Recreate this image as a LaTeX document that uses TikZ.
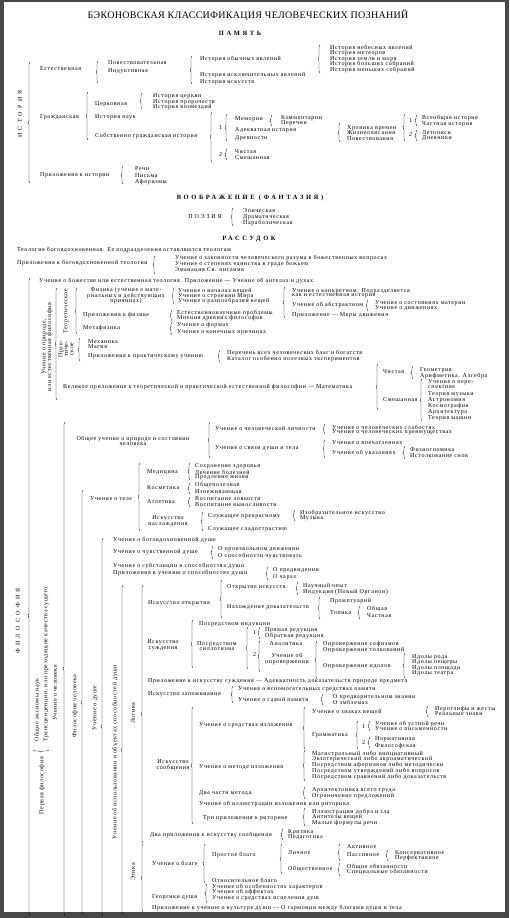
\documentclass[tikz,border=0pt]{standalone}
\usepackage{fontspec}
\setmainfont{Liberation Serif}
\newfontfamily\bodyfont[LetterSpace=10]{Liberation Serif}
\newfontfamily\headfont[LetterSpace=40]{Liberation Serif}
\newfontfamily\sparsefont[LetterSpace=30]{Liberation Serif}
\newfontfamily\vertfont[LetterSpace=55]{Liberation Serif}
\newfontfamily\titlefont[LetterSpace=3]{Liberation Serif}
\usetikzlibrary{decorations.pathreplacing}
\definecolor{scan}{RGB}{72,72,72}
\tikzset{every picture/.style={line width=0.4pt}}
\tikzset{
  txt/.style={anchor=west, inner sep=0pt, font=\bodyfont\fontsize{6}{5.5}\selectfont},
  ctxt/.style={txt, anchor=center, align=center},
  vtxt/.style={txt, anchor=center, align=center, rotate=90},
  ttl/.style={inner sep=0pt, font=\titlefont\fontsize{10}{12}\selectfont},
  head/.style={inner sep=0pt, font=\headfont\bfseries\fontsize{6.5}{8}\selectfont},
  sparse/.style={inner sep=0pt, font=\sparsefont\fontsize{6}{7}\selectfont},
  vsp/.style={inner sep=0pt, rotate=90, font=\vertfont\fontsize{6}{7}\selectfont},
  brc/.style={decorate, decoration={brace, amplitude=2pt}}
}

\begin{document}
\begin{tikzpicture}[x=1pt,y=-1pt]
    % рамка скана
    \fill[scan] (0,0) rectangle (509,918);
    \fill[white] (4,2) rectangle (505,912);
    \useasboundingbox (0,0) rectangle (509,918);

    % заголовок
    \node[ttl] (title) at (248,15) {БЭКОНОВСКАЯ КЛАССИФИКАЦИЯ ЧЕЛОВЕЧЕСКИХ ПОЗНАНИЙ};
    \node[head] (pamyat) at (240,33) {ПАМЯТЬ};

    % история
    \node[vsp] (istoriya) at (20,114) {ИСТОРИЯ};
    \draw[brc] (30,183) -- (30,62);
    \node[txt] (estest) at (40,69) {Естественная};
    \draw[brc] (98,83) -- (98,61);
    \node[txt] (povest) at (108,63) {Повествовательная};
    \node[txt] (indukt) at (108,71) {Индуктивная};
    \draw[brc] (192,84) -- (192,56);
    \node[txt] (obych) at (200,59) {История обычных явлений};
    \node[txt] (isklyuch) at (200,75) {История исключительных явлений};
    \node[txt] (iskusstv) at (200,82) {История искусств};
    \draw[brc] (320,73) -- (320,45);
    \node[txt] (nebes) at (330,48) {История небесных явлений};
    \node[txt] (meteor) at (330,53) {История метеоров};
    \node[txt] (zemli) at (330,59) {История земли и моря};
    \node[txt] (bolsh) at (330,64) {История больших собраний};
    \node[txt] (mensh) at (330,70) {История меньших собраний};

    \node[txt] (grazhd) at (40,117) {Гражданская};
    \draw[brc] (88,140) -- (88,92);
    \node[txt] (tserk) at (95,104) {Церковная};
    \draw[brc] (142,109) -- (142,93);
    \node[txt] (tserkvi) at (153,96) {История церкви};
    \node[txt] (proroch) at (153,102) {История пророчеств};
    \node[txt] (vozmezd) at (153,107) {История возмездий};
    \node[txt] (nauk) at (95,117) {История наук};
    \node[txt] (sobstv) at (95,136) {Собственно гражданская история};
    \draw[brc] (212,162) -- (212,112);
    \node[txt] (sob1) at (219,128) {1};
    \draw[brc] (227,141) -- (227,114);
    \node[txt] (memor) at (235,119) {Мемории};
    \draw[brc] (272,126) -- (272,115);
    \node[txt] (komment) at (281,118) {Комментарии};
    \node[txt] (perech) at (281,123) {Перечни};
    \node[txt] (adekv) at (235,130) {Адекватная история};
    \node[txt] (drevn) at (235,138) {Древности};
    \draw[brc] (340,142) -- (340,123);
    \node[txt] (khron) at (347,128) {Хроника времен};
    \node[txt] (zhizn) at (347,133) {Жизнеописания};
    \node[txt] (povestv) at (347,139) {Повествования};
    \draw[brc] (405,141) -- (405,114);
    \node[txt] (khr1) at (409,121) {1};
    \draw[brc] (417,126) -- (417,115);
    \node[txt] (vseob) at (422,118) {Всеобщая история};
    \node[txt] (chastn) at (422,124) {Частная история};
    \node[txt] (khr2) at (409,135) {2};
    \draw[brc] (417,141) -- (417,130);
    \node[txt] (letop) at (422,133) {Летописи};
    \node[txt] (dnevn) at (422,138) {Дневники};
    \node[txt] (sob2) at (219,155) {2};
    \draw[brc] (227,160) -- (227,149);
    \node[txt] (chist) at (235,152) {Чистая};
    \node[txt] (smesh) at (235,158) {Смешанная};

    \node[txt] (prilist) at (40,175) {Приложения к истории};
    \draw[brc] (123,184) -- (123,166);
    \node[txt] (rechi) at (135,169) {Речи};
    \node[txt] (pisma) at (135,176) {Письма};
    \node[txt] (aforizm) at (135,182) {Афоризмы};

    % воображение
    \node[head] (voobr) at (250,198) {ВООБРАЖЕНИЕ (ФАНТАЗИЯ)};
    \node[sparse] (poeziya) at (205,217) {ПОЭЗИЯ};
    \draw[brc] (233,226) -- (233,208);
    \node[txt] (epich) at (243,211) {Эпическая};
    \node[txt] (dramat) at (243,217) {Драматическая};
    \node[txt] (parabol) at (243,223) {Параболическая};

    % рассудок
    \node[head] (rassudok) at (249,239) {РАССУДОК};
    \node[txt] (teol) at (17,250) {Теология боговдохновенная. Ее подразделения оставляются теологам};
    \node[txt] (prilteol) at (17,263) {Приложения к боговдохновенной теологии};
    \draw[brc] (155,274) -- (155,256);
    \node[txt] (zakonn) at (175,258) {Учение о законности человеческого разума в божественных вопросах};
    \node[txt] (stepen) at (175,264) {Учение о степенях единства в граде божьем};
    \node[txt] (emanac) at (175,270) {Эманация Св. писания};

    % философия
    \node[vsp] (filos) at (18,621) {ФИЛОСОФИЯ};
    \draw[brc, decoration={aspect=0.47}] (30,915) -- (30,278);
    \node[txt] (bozh) at (39,281) {Учение о божестве или естественная теология. Приложение — Учение об ангелах и духах};

    % учение о природе
    \node[vtxt] (priroda) at (47,347) {Учение о природе,\\или естественная философия};
    \draw[brc] (57,400) -- (57,288);
    \node[vtxt] (teor) at (66,311) {Теоретическое};
    \draw[brc] (77,334) -- (77,288);
    \node[txt, align=center] (fizika) at (87,296) {Физика (учение о мате-\\риальных и действующих\\причинах)};
    \draw[brc] (174,304) -- (174,288);
    \node[txt] (nachal) at (178,291) {Учение о началах вещей};
    \node[txt] (stroen) at (178,296) {Учение о строении Мира};
    \node[txt] (raznoobr) at (178,301) {Учение о разнообразии вещей};
    \draw[brc] (285,318) -- (285,287);
    \node[txt] (konkr) at (292,291) {Учение о конкретном. Подразделяется};
    \node[txt] (konkr2) at (292,296) {как и естественная история};
    \node[txt] (abstr) at (292,305) {Учение об абстрактном};
    \node[txt] (mery) at (292,315) {Приложение — Меры движения};
    \draw[brc] (368,311) -- (368,300);
    \node[txt] (sostoyan) at (375,303) {Учение о состояниях материи};
    \node[txt] (dvizh) at (375,308) {Учение о движениях};
    \node[txt] (prilfiz) at (83,315) {Приложения к физике};
    \draw[brc] (172,321) -- (172,310);
    \node[txt] (estnauch) at (177,313) {Естественнонаучные проблемы};
    \node[txt] (mneniya) at (177,318) {Мнения древних философов};
    \node[txt] (metafiz) at (83,328) {Метафизика};
    \draw[brc] (172,335) -- (172,322);
    \node[txt] (formy) at (177,325) {Учение о формах};
    \node[txt] (konech) at (177,332) {Учение о конечных причинах};

    \node[vtxt] (prakt) at (66,349) {Прак-\\тиче-\\ское};
    \draw[brc] (80,361) -- (80,338);
    \node[txt] (mekh) at (88,342) {Механика};
    \node[txt] (magiya) at (88,347) {Магия};
    \node[txt] (prilprakt) at (88,356) {Приложения к практическому учению};
    \draw[brc] (220,362) -- (220,350);
    \node[txt] (perechen) at (227,353) {Перечень всех человеческих благ и богатств};
    \node[txt] (katalog) at (227,359) {Каталог особенно полезных экспериментов};

    \node[txt] (velik) at (63,387) {Великое приложение к теоретической и практической естественной философии — Математика};
    \draw[brc] (378,410) -- (378,364);
    \node[txt] (mchist) at (383,372) {Чистая};
    \draw[brc] (413,379) -- (413,366);
    \node[txt] (geom) at (420,370) {Геометрия};
    \node[txt] (arifm) at (420,376) {Арифметика. Алгебра};
    \node[txt] (msmesh) at (383,400) {Смешанная};
    \draw[brc] (422,421) -- (422,379);
    \node[txt] (persp) at (428,382) {Учение о пере-};
    \node[txt] (persp2) at (428,387) {спективе};
    \node[txt] (muz) at (428,394) {Теория музыки};
    \node[txt] (astr) at (428,400) {Астрономия};
    \node[txt] (kosm) at (428,406) {Космография};
    \node[txt] (arkh) at (428,412) {Архитектура};
    \node[txt] (mashin) at (428,418) {Теория машин};

    % первая философия
    \draw[brc] (49,750) -- (33,750);
    \node[txt, rotate=90] (aksiom) at (37,742) {Общие аксиомы наук};
    \node[txt, rotate=90] (transc) at (46,742) {Трансценденции, или преходящие качества сущего};
    \node[txt, rotate=90, anchor=east] (pervaya) at (42,757) {Первая философия};

    % учение о человеке
    \node[vtxt] (chelovek) at (55,693) {Учение о человеке};
    \draw[brc] (65,915) -- (65,422);
    \node[ctxt] (obshch) at (133,441) {Общее учение о природе и состоянии\\человека};
    \draw[brc] (210,458) -- (210,422);
    \node[txt] (lichn) at (215,428) {Учение о человеческой личности};
    \draw[brc] (325,434) -- (325,424);
    \node[txt] (slab) at (332,427) {Учение о человеческих слабостях};
    \node[txt] (preim) at (332,432) {Учение о человеческих преимуществах};
    \node[txt] (svyaz) at (215,448) {Учение о связи души и тела};
    \draw[brc] (325,458) -- (325,440);
    \node[txt] (vpech) at (332,443) {Учение о впечатлениях};
    \node[txt] (ukaz) at (332,453) {Учение об указаниях};
    \draw[brc] (405,459) -- (405,446);
    \node[txt] (fiziog) at (410,450) {Физиогномика};
    \node[txt] (snov) at (410,456) {Истолкование снов};

    \node[vtxt] (filchel) at (75,706) {Философия человека};
    \draw[brc] (83,915) -- (83,490);
    \node[txt] (tele) at (90,499) {Учение о теле};
    \draw[brc] (140,531) -- (140,463);
    \node[txt] (medic) at (147,472) {Медицина};
    \draw[brc] (190,480) -- (190,463);
    \node[txt] (zdorov) at (195,466) {Сохранение здоровья};
    \node[txt] (lechen) at (195,472) {Лечение болезней};
    \node[txt] (prodl) at (195,477) {Продление жизни};
    \node[txt] (kosmet) at (147,488) {Косметика};
    \draw[brc] (190,494) -- (190,483);
    \node[txt] (obshchep) at (195,485) {Общеполезная};
    \node[txt] (iznezh) at (195,492) {Изнеживающая};
    \node[txt] (atlet) at (147,502) {Атлетика};
    \draw[brc] (190,507) -- (190,497);
    \node[txt] (lovk) at (195,499) {Воспитание ловкости};
    \node[txt] (vynosl) at (195,505) {Воспитание выносливости};
    \node[ctxt] (naslazh) at (168,521) {Искусство\\наслаждения};
    \draw[brc] (203,531) -- (203,512);
    \node[txt] (prekr) at (208,516) {Служащее прекрасному};
    \draw[brc] (295,521) -- (295,510);
    \node[txt] (izobr) at (300,513) {Изобразительное искусство};
    \node[txt] (muzyka) at (300,518) {Музыка};
    \node[txt] (sladostr) at (208,529) {Служащее сладострастию};

    % учение о душе
    \node[vtxt] (dushe) at (95,708) {Учение о душе};
    \draw[brc] (103,915) -- (103,538);
    \node[txt] (bogovd) at (113,540) {Учение о боговдохновенной душе};
    \node[txt] (chuvstv) at (113,552) {Учение о чувственной душе};
    \draw[brc] (213,559) -- (213,546);
    \node[txt] (proizv) at (218,549) {О произвольном движении};
    \node[txt] (sposob) at (218,556) {О способности чувствовать};
    \node[txt] (substan) at (113,566) {Учение о субстанции и способностях души};
    \node[txt] (prilsp) at (113,573) {Приложения к учению о способностях души};
    \draw[brc] (268,580) -- (268,567);
    \node[txt] (predv) at (273,570) {О предвидении};
    \node[txt] (charakh) at (273,577) {О чарах};

    \node[vtxt] (ispolz) at (115,752) {Учение об использовании и объектах способностей души};
    \draw[brc] (123,915) -- (123,585);

    % логика
    \node[vtxt] (logika) at (133,713) {Логика};
    \draw[brc] (143,843) -- (143,585);
    \node[txt] (otkr) at (148,603) {Искусство открытия};
    \draw[brc] (222,618) -- (222,580);
    \node[txt] (otkrisk) at (227,587) {Открытие искусств};
    \draw[brc] (298,595) -- (298,582);
    \node[txt] (opyt) at (303,586) {Научный опыт};
    \node[txt] (organon) at (303,592) {Индукция (Новый Органон)};
    \node[txt] (nakhozh) at (227,607) {Нахождение доказательств};
    \draw[brc] (320,619) -- (320,597);
    \node[txt] (prompt) at (330,601) {Промптуарий};
    \node[txt] (topika) at (330,613) {Топика};
    \draw[brc] (360,619) -- (360,606);
    \node[txt] (tobsh) at (367,609) {Общая};
    \node[txt] (tchast) at (367,616) {Частная};

    \node[ctxt] (suzhd) at (163,645) {Искусство\\суждения};
    \draw[brc] (193,668) -- (193,620);
    \node[txt] (induk) at (199,624) {Посредством индукции};
    \node[ctxt] (sillog) at (217,646) {Посредством\\силлогизма};
    \draw[brc] (248,669) -- (248,627);
    \node[txt] (sil1) at (253,633) {1};
    \draw[brc] (260,639) -- (260,627);
    \node[txt] (pryam) at (265,630) {Прямая редукция};
    \node[txt] (obratn) at (265,636) {Обратная редукция};
    \node[txt] (sil2) at (253,655) {2};
    \draw[brc] (260,672) -- (260,641);
    \node[ctxt] (analit) at (286,644) {Аналитика};
    \node[ctxt] (oproverzh) at (287,659) {Учение об\\опровержении};
    \draw[brc] (317,679) -- (317,641);
    \node[txt] (sofizm) at (323,644) {Опровержение софизмов};
    \node[txt] (tolkov) at (323,650) {Опровержение толкований};
    \node[txt] (idolov) at (323,666) {Опровержение идолов};
    \draw[brc] (405,678) -- (405,653);
    \node[txt] (idrod) at (412,657) {Идолы рода};
    \node[txt] (idpesh) at (412,662) {Идолы пещеры};
    \node[txt] (idplosh) at (412,668) {Идолы площади};
    \node[txt] (idteatr) at (412,673) {Идолы театра};

    \node[txt] (adekvdok) at (148,681) {Приложение к искусству суждения — Адекватность доказательств природе предмета};
    \node[txt] (zapomin) at (148,694) {Искусство запоминания};
    \draw[brc] (233,703) -- (233,686);
    \node[txt] (vspom) at (238,689) {Учение о вспомогательных средствах памяти};
    \node[txt] (samoi) at (238,699) {Учение о самой памяти};
    \draw[brc] (323,705) -- (323,694);
    \node[txt] (predvzn) at (333,697) {О предварительном знании};
    \node[txt] (emblem) at (333,702) {О эмблемах};

    \node[ctxt] (soobshch) at (173,765) {Искусство\\сообщения};
    \draw[brc] (193,824) -- (193,707);
    \node[txt] (sredstv) at (199,725) {Учение о средствах изложения};
    \draw[brc] (305,749) -- (305,707);
    \node[txt] (znaki) at (312,712) {Учение о знаках вещей};
    \draw[brc] (428,717) -- (428,706);
    \node[txt] (ierogl) at (435,709) {Иероглифы и жесты};
    \node[txt] (realn) at (435,714) {Реальные знаки};
    \node[txt] (gramm) at (312,735) {Грамматика};
    \draw[brc] (358,749) -- (358,721);
    \node[txt] (gr1) at (362,727) {1};
    \draw[brc] (370,731) -- (370,721);
    \node[txt] (ustn) at (375,724) {Учение об устной речи};
    \node[txt] (pismen) at (375,729) {Учение о письменности};
    \node[txt] (gr2) at (362,743) {2};
    \draw[brc] (370,748) -- (370,737);
    \node[txt] (normat) at (375,739) {Нормативная};
    \node[txt] (filosof) at (375,746) {Философская};
    \node[txt] (metod) at (199,767) {Учение о методе изложения};
    \draw[brc] (305,781) -- (305,750);
    \node[txt] (magistr) at (312,754) {Магистральный либо инициативный};
    \node[txt] (ekzoter) at (312,759) {Экзотерический либо акроаматический};
    \node[txt] (aforizmy) at (312,765) {Посредством афоризмов либо методически};
    \node[txt] (utverzh) at (312,771) {Посредством утверждений либо вопросов};
    \node[txt] (sravn) at (312,777) {Посредством сравнений либо доказательств};
    \node[txt] (dvechasti) at (199,793) {Две части метода};
    \draw[brc] (305,799) -- (305,787);
    \node[txt] (arkhit) at (312,790) {Архитектоника всего труда};
    \node[txt] (ogranich) at (312,796) {Ограничение предложений};
    \node[txt] (ritor) at (199,804) {Учение об иллюстрации изложения или риторика};
    \node[txt] (triprl) at (203,818) {Три приложения к риторике};
    \draw[brc] (305,826) -- (305,808);
    \node[txt] (dobra) at (312,812) {Иллюстрации добра и зла};
    \node[txt] (antitez) at (312,817) {Антитезы вещей};
    \node[txt] (formuly) at (312,823) {Малые формулы речи};
    \node[txt] (dvaprl) at (150,835) {Два приложения к искусству сообщения};
    \draw[brc] (283,840) -- (283,829);
    \node[txt] (kritika) at (288,832) {Критика};
    \node[txt] (pedag) at (288,837) {Педагогика};

    % этика
    \node[vtxt] (etika) at (133,872) {Этика};
    \draw[brc] (143,912) -- (143,844);
    \node[txt] (blage) at (152,863) {Учение о благе};
    \draw[brc] (205,883) -- (205,844);
    \node[txt] (prost) at (212,855) {Простое благо};
    \draw[brc] (282,874) -- (282,844);
    \node[txt] (lichnoe) at (288,853) {Личное};
    \draw[brc] (340,861) -- (340,844);
    \node[txt] (aktiv) at (347,847) {Активное};
    \node[txt] (passiv) at (347,855) {Пассивное};
    \draw[brc] (388,861) -- (388,850);
    \node[txt] (konserv) at (395,853) {Консервативное};
    \node[txt] (perfekt) at (395,858) {Перфективное};
    \node[txt] (obshchest) at (288,869) {Общественное};
    \draw[brc] (340,876) -- (340,863);
    \node[txt] (obyaz) at (347,867) {Общие обязанности};
    \node[txt] (specob) at (347,872) {Специальные обязанности};
    \node[txt] (otnosit) at (212,880) {Относительное благо};
    \node[txt] (georg) at (152,897) {Георгики души};
    \draw[brc] (207,903) -- (207,884);
    \node[txt] (kharakt) at (212,887) {Учение об особенностях характеров};
    \node[txt] (affekt) at (212,892) {Учение об аффектах};
    \node[txt] (istsel) at (212,898) {Учение о средствах исцеления душ};
    \node[txt] (garmon) at (152,908) {Приложение к учению о культуре души — О гармонии между благами души и тела};
\end{tikzpicture}
\end{document}
